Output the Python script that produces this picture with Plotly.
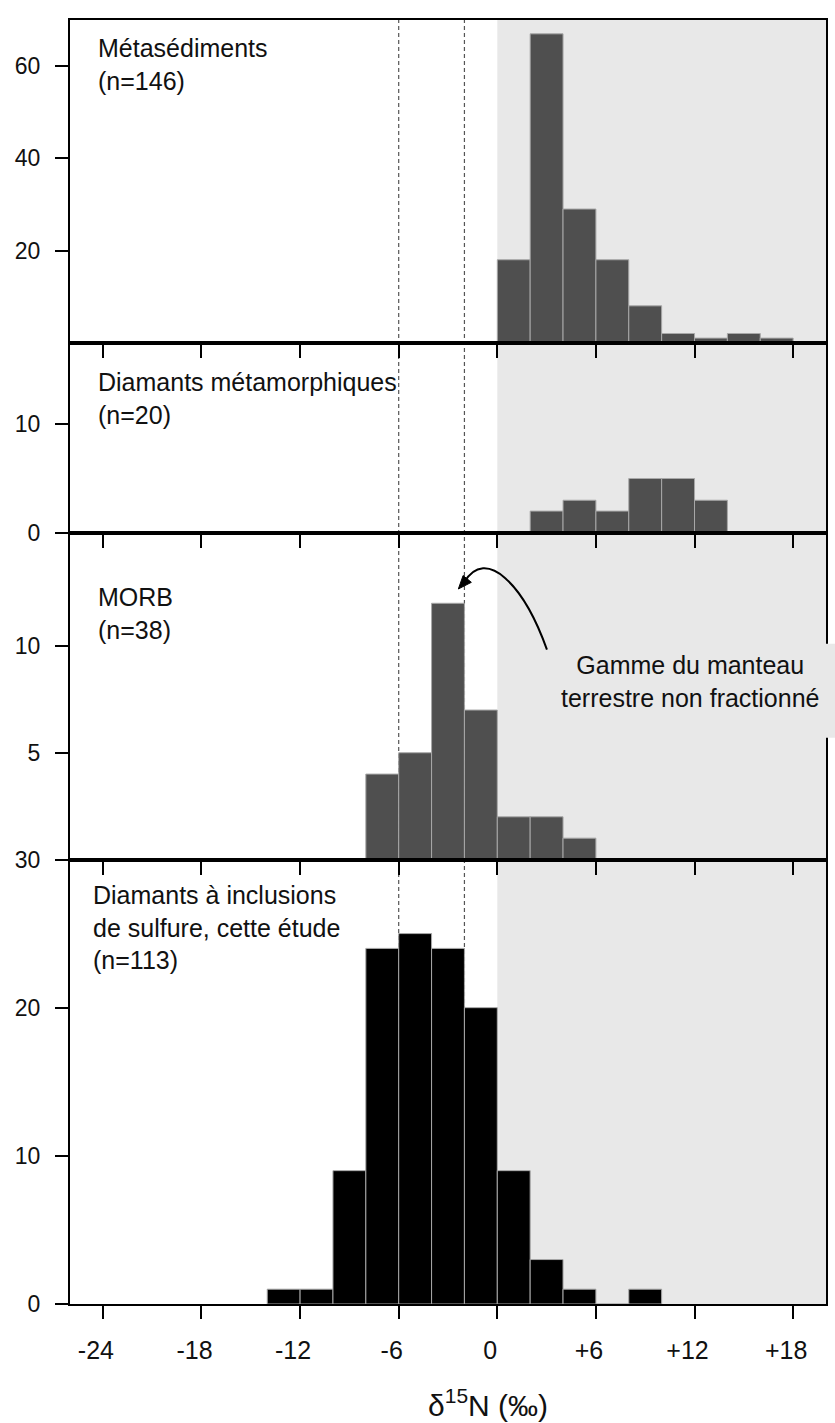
import plotly.graph_objects as go

FONT = "Liberation Sans, Arial, Helvetica, sans-serif"
INK = "#111111"

# delta15N histograms: left edges of the 2 permil bins and their counts
BIN_WIDTH = 2
meta_left = [0, 2, 4, 6, 8, 10, 12, 14, 16]
meta_count = [18, 67, 29, 18, 8, 2, 1, 2, 1]
metadiam_left = [2, 4, 6, 8, 10, 12]
metadiam_count = [2, 3, 2, 5, 5, 3]
morb_left = [-8, -6, -4, -2, 0, 2, 4]
morb_count = [4, 5, 12, 7, 2, 2, 1]
sulf_left = [-14, -12, -10, -8, -6, -4, -2, 0, 2, 4, 6, 8]
sulf_count = [1, 1, 9, 24, 25, 24, 20, 9, 3, 1, 0, 1]

panel_titles = [
    "Métasédiments<br>(n=146)",
    "Diamants métamorphiques<br>(n=20)",
    "MORB<br>(n=38)",
    "Diamants à inclusions<br>de sulfure, cette étude<br>(n=113)",
]
panel_yticks = [[20, 40, 60], [0, 10], [5, 10], [0, 10, 20, 30]]
panel_yrange = [[0, 70], [0, 17.5], [0, 15.3], [0, 30]]

x_ticks = [-24, -18, -12, -6, 0, 6, 12, 18]
x_ticktext = ["-24", "-18", "-12", "-6", "0", "+6", "+12", "+18"]
x_range = [-26, 20]

mantle_bounds = [-6, -2]      # unfractionated mantle range (dashed)
positive_zone = [0, 20]       # shaded delta15N > 0 field

# figure geometry (pixels)
W, H = 835, 1423
ML, MR, MT, MB = 70, 7, 7, 119
PLOT_H = H - MT - MB
BOTTOM = H - MB


def py(p):
    """page pixel row -> paper fraction"""
    return (BOTTOM - p) / PLOT_H


def px(p):
    """page pixel column -> paper fraction"""
    return (p - ML) / (W - ML - MR)


# panel boundaries, top to bottom
bounds = [MT, 333, 525, 855, BOTTOM]
domains = [[py(bounds[i + 1]), py(bounds[i])] for i in range(4)]

series = [
    (meta_left, meta_count, "#4f4f4f"),
    (metadiam_left, metadiam_count, "#4f4f4f"),
    (morb_left, morb_count, "#4f4f4f"),
    (sulf_left, sulf_count, "#000000"),
]

fig = go.Figure()
for i, (left, count, color) in enumerate(series):
    sfx = "" if i == 0 else str(i + 1)
    fig.add_trace(go.Bar(
        x=left, y=count, width=BIN_WIDTH, offset=0,
        marker=dict(color=color, line=dict(color="#a8a8a8", width=1)),
        xaxis="x" + sfx, yaxis="y" + sfx, showlegend=False, hoverinfo="x+y",
    ))

layout = dict(
    width=W, height=H,
    margin=dict(l=ML, r=MR, t=MT, b=MB),
    paper_bgcolor="white", plot_bgcolor="rgba(0,0,0,0)",
    font=dict(family=FONT, color=INK),
    showlegend=False,
)

for i in range(4):
    sfx = "" if i == 0 else str(i + 1)
    last = i == 3
    layout["xaxis" + sfx] = dict(
        domain=[0, 1], range=x_range, anchor="y" + sfx,
        tickmode="array", tickvals=x_ticks, ticktext=x_ticktext,
        showticklabels=last, ticks="outside", ticklen=13, tickwidth=2,
        tickcolor="black", showline=True, linecolor="black", linewidth=2,
        mirror=True, showgrid=False, zeroline=False,
        tickfont=dict(size=25, family=FONT, color=INK),
        ticklabelstandoff=10, ticklabelshift=-7,
    )
    layout["yaxis" + sfx] = dict(
        domain=domains[i], range=panel_yrange[i], anchor="x" + sfx,
        tickmode="array", tickvals=panel_yticks[i],
        ticks="outside", ticklen=13, tickwidth=2, tickcolor="black",
        showline=True, linecolor="black", linewidth=2, mirror=True,
        showgrid=False, zeroline=False,
        tickfont=dict(size=23, family=FONT, color=INK),
        ticklabelstandoff=10,
    )

shapes = [
    dict(type="rect", xref="x", yref="paper", x0=positive_zone[0], x1=positive_zone[1],
         y0=0, y1=1, fillcolor="#e8e8e8", line=dict(width=0), layer="below"),
]
for xv in mantle_bounds:
    shapes.append(dict(type="line", xref="x", yref="paper", x0=xv, x1=xv, y0=0, y1=1,
                       line=dict(color="#555555", width=1.2, dash="4px,3px"), layer="below"))

# curved arrow in the MORB panel, with a filled head
shapes.append(dict(type="path", xref="x3", yref="y3", layer="above",
                   path="M 3.02,9.83 C 1.64,12.8 -0.67,14.74 -2.05,12.95",
                   line=dict(color="black", width=2)))
shapes.append(dict(type="path", xref="x3", yref="y3", layer="above",
                   path="M -2.37,12.67 L -1.58,12.98 L -2.08,13.30 Z",
                   fillcolor="black", line=dict(color="black", width=1)))
# break in the right frame behind the mantle label
shapes.append(dict(type="rect", xref="paper", yref="paper", x0=0.99, x1=1.03,
                   y0=py(732), y1=py(637), fillcolor="#e8e8e8",
                   line=dict(width=0), layer="above"))
layout["shapes"] = shapes

label_pos = [(96, 19), (96, 357), (96, 574), (91, 875)]
annotations = []
for (lx, ly), txt in zip(label_pos, panel_titles):
    annotations.append(dict(
        text=txt, xref="paper", yref="paper", x=px(lx), y=py(ly),
        xanchor="left", yanchor="top", align="left", showarrow=False,
        font=dict(size=25, family=FONT, color=INK),
    ))

annotations.append(dict(
    text="Gamme du manteau<br>terrestre non fractionné",
    xref="paper", yref="paper", x=px(692), y=py(675),
    xanchor="center", yanchor="middle", align="center", showarrow=False,
    font=dict(size=25, family=FONT, color=INK),
))
# x-axis title
annotations.append(dict(
    text="δ<sup>15</sup>N (‰)", xref="paper", yref="paper",
    x=px(489), y=py(1404), xanchor="center", yanchor="middle", showarrow=False,
    font=dict(size=30, family=FONT, color=INK),
))
layout["annotations"] = annotations

fig.update_layout(**layout)
fig.write_html("out.html")
